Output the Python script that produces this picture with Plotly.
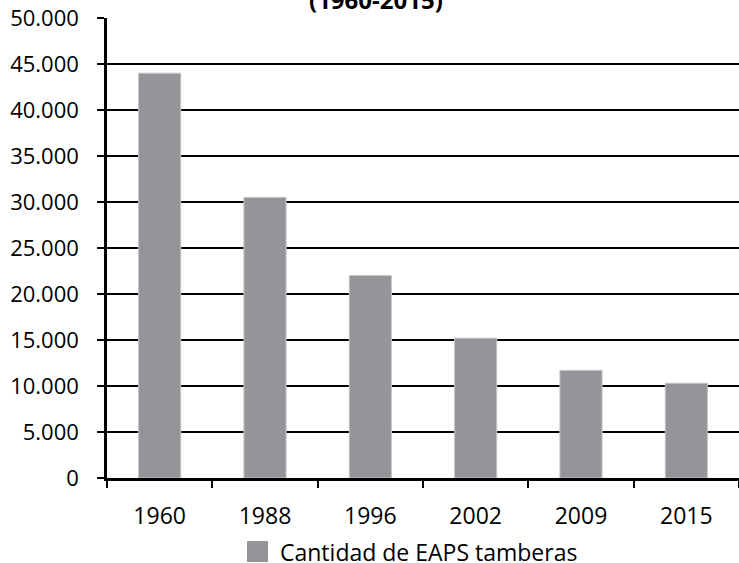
import plotly.graph_objects as go

# Number of dairy farms (EAPs tamberas) by census year
years = ["1960", "1988", "1996", "2002", "2009", "2015"]
eaps_tamberas = [44000, 30500, 22000, 15200, 11700, 10300]
y_ticks = [0, 5000, 10000, 15000, 20000, 25000, 30000, 35000, 40000, 45000, 50000]

series_name = "Cantidad de EAPS tamberas"
period_label = "(1960-2015)"

bar_color = "#939598"
font_family = "Open Sans, Lato, DejaVu Sans, sans-serif"

fig = go.Figure()
fig.add_trace(go.Bar(
    x=years,
    y=eaps_tamberas,
    name=series_name,
    marker=dict(color=bar_color, line=dict(color="#c4c5c7", width=1)),
    showlegend=False,
))

fig.update_layout(
    width=739,
    height=563,
    margin=dict(l=107, r=0, t=18, b=85),
    paper_bgcolor="white",
    plot_bgcolor="white",
    separators=",.",
    bargap=0.6,
    font=dict(family=font_family, size=23, color="black"),
    xaxis=dict(
        type="category",
        tickson="boundaries",
        ticks="outside",
        ticklen=7,
        tickwidth=2,
        tickcolor="black",
        showline=True,
        linecolor="black",
        linewidth=2.5,
        showgrid=False,
        ticklabelstandoff=16,
        tickfont=dict(size=23),
    ),
    yaxis=dict(
        range=[0, 50000],
        tickvals=y_ticks,
        tickformat=",d",
        ticks="outside",
        ticklen=7,
        tickwidth=2,
        tickcolor="black",
        showline=True,
        linecolor="black",
        linewidth=2.5,
        showgrid=True,
        gridcolor="black",
        gridwidth=2,
        zeroline=False,
        ticklabelstandoff=14,
        tickfont=dict(size=22),
    ),
    shapes=[
        # legend swatch
        dict(type="rect", xref="paper", yref="paper",
             x0=0.2215, x1=0.2547, y0=-0.1826, y1=-0.137,
             fillcolor=bar_color, line=dict(width=0)),
    ],
    annotations=[
        dict(text=series_name, xref="paper", yref="paper",
             x=0.2706, y=-0.1609, xanchor="left", yanchor="middle",
             showarrow=False, font=dict(size=23)),
        dict(text="<b>" + period_label + "</b>", xref="paper", yref="paper",
             x=0.4256, y=1.0413, xanchor="center", yanchor="middle",
             showarrow=False, font=dict(size=24)),
    ],
)

fig.write_html("out.html")
